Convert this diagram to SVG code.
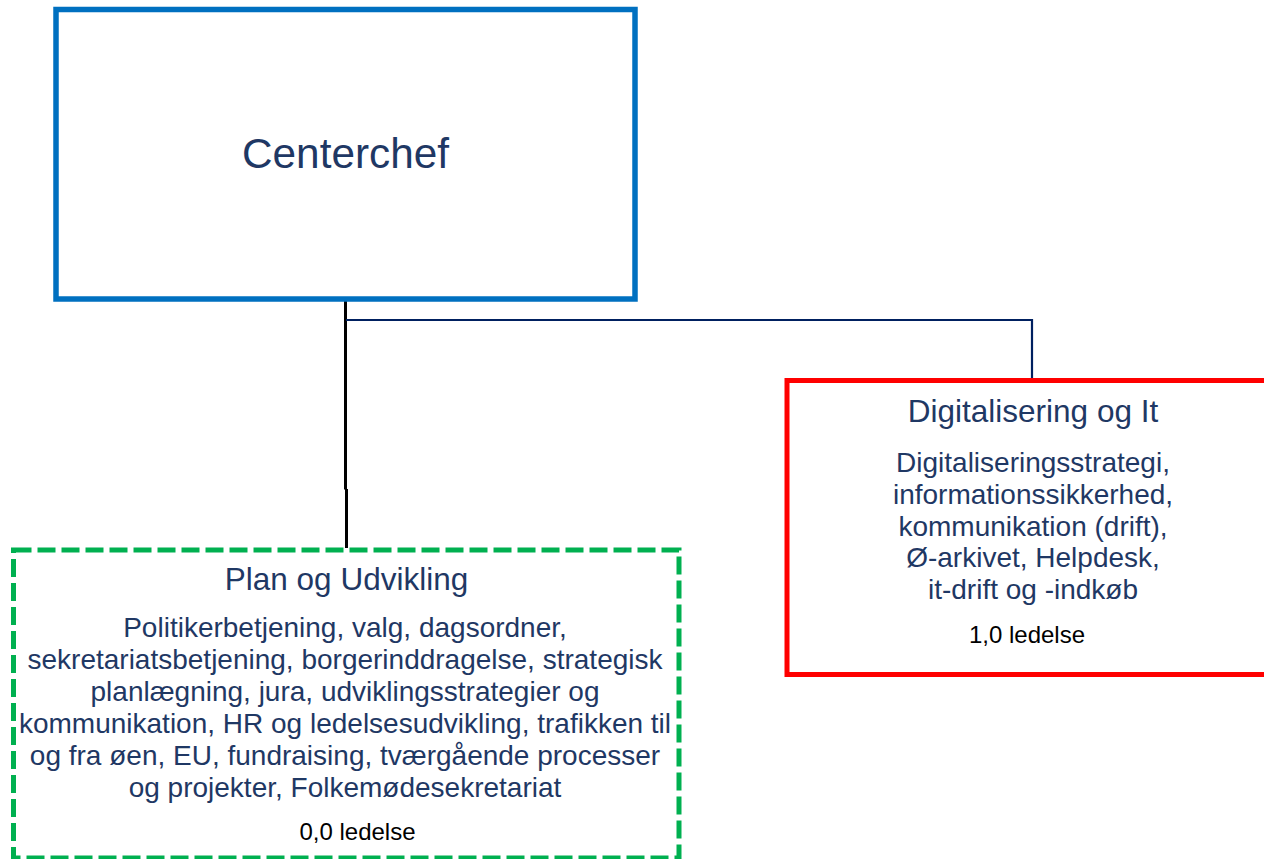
<svg xmlns="http://www.w3.org/2000/svg" width="1264" height="859" viewBox="0 0 1264 859">
<style>
text{font-family:"Liberation Sans",Arial,sans-serif;text-anchor:middle}
.t{fill:#1F3864}
.big{font-size:42.3px}
.title{font-size:31.5px}
.body{font-size:28px}
.led{font-size:24px;fill:#000}
.box{fill:#fff}
</style>
<rect width="1264" height="859" fill="#fff"/>
<g id="connectors" fill="none">
<path d="M345.5 300 V489.5 M346.5 489 V548" stroke="#000" stroke-width="3"/>
<path d="M346 320 H1032 V378" stroke="#002060" stroke-width="2.2"/>
</g>
<g id="centerchef">
<rect class="box" x="56" y="9.5" width="579" height="289.5" stroke="#0070C0" stroke-width="5.5"/>
<text class="t big" x="345.5" y="168">Centerchef</text>
</g>
<g id="digitalisering">
<rect class="box" x="787" y="380.5" width="500" height="294" stroke="#FF0000" stroke-width="5"/>
<text class="t title" x="1033" y="421.5">Digitalisering og It</text>
<text class="t body" x="1033" y="471.5">Digitaliseringsstrategi,</text>
<text class="t body" x="1033" y="503.5">informationssikkerhed,</text>
<text class="t body" x="1033" y="535.5">kommunikation (drift),</text>
<text class="t body" x="1033" y="567">Ø-arkivet, Helpdesk,</text>
<text class="t body" x="1033" y="598.5">it-drift og -indkøb</text>
<text class="led" x="1027" y="643">1,0 ledelse</text>
</g>
<g id="plan">
<rect class="box" x="13.5" y="550" width="665.5" height="308" stroke="#00B050" stroke-width="5" stroke-dasharray="18 6"/>
<text class="t title" x="346.5" y="590">Plan og Udvikling</text>
<text class="t body" x="345" y="637">Politikerbetjening, valg, dagsordner,</text>
<text class="t body" x="345" y="669">sekretariatsbetjening, borgerinddragelse, strategisk</text>
<text class="t body" x="345" y="701">planlægning, jura, udviklingsstrategier og</text>
<text class="t body" x="345" y="733">kommunikation, HR og ledelsesudvikling, trafikken til</text>
<text class="t body" x="345" y="765">og fra øen, EU, fundraising, tværgående processer</text>
<text class="t body" x="345" y="797">og projekter, Folkemødesekretariat</text>
<text class="led" x="357.5" y="840">0,0 ledelse</text>
</g>
</svg>
